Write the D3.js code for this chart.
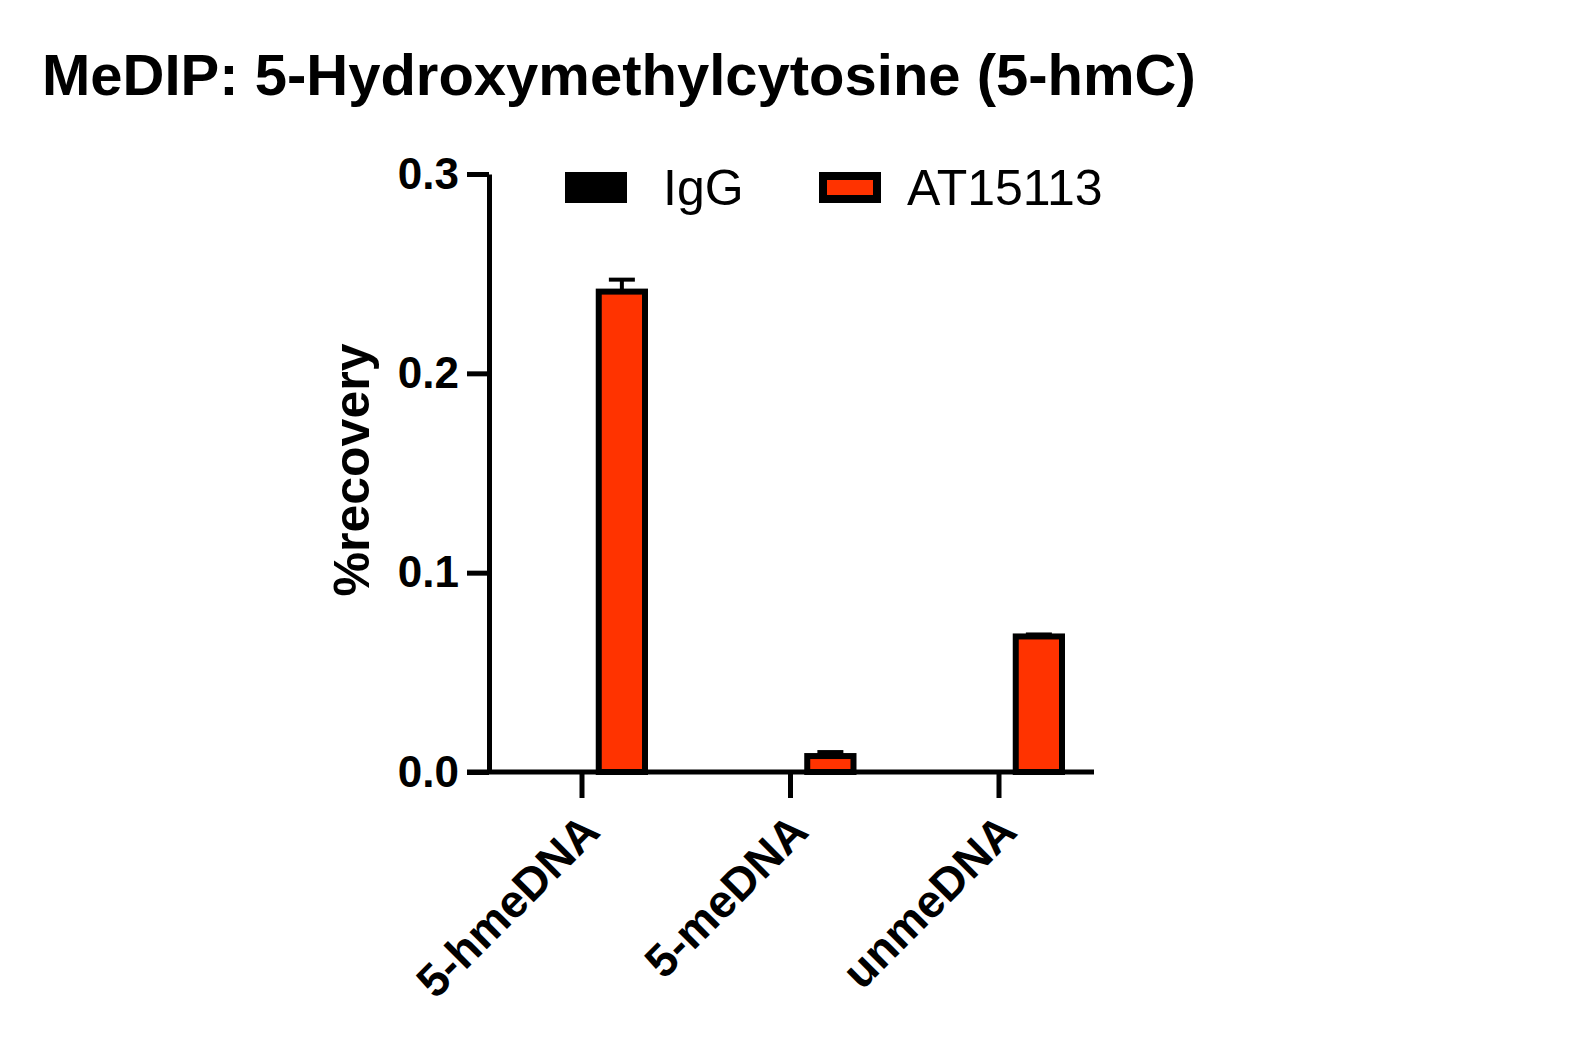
<!DOCTYPE html>
<html>
<head>
<meta charset="utf-8">
<script src="https://cdn.jsdelivr.net/npm/d3@7"></script>
<style>
  body { margin: 0; background: #fff; }
  svg { font-family: 'Liberation Sans', Arial, sans-serif; }
</style>
</head>
<body>
<script>
const categories = ['5-hmeDNA', '5-meDNA', 'unmeDNA']
const seriesNames = ['IgG', 'AT15113']
const igg = [0, 0, 0]
const iggErr = [0, 0, 0]
const at15113 = [0.241, 0.008, 0.068]
const at15113Err = [0.006, 0.002, 0.001]
const yTicks = [0, 0.1, 0.2, 0.3]

const WIDTH = 1584
const HEIGHT = 1055
const ORANGE = '#ff3300'

const colors = { IgG: '#000', AT15113: ORANGE }
const values = { IgG: igg, AT15113: at15113 }
const errors = { IgG: iggErr, AT15113: at15113Err }

const svg = d3.select('body')
  .append('svg')
  .attr('width', WIDTH)
  .attr('height', HEIGHT)

svg.append('text')
  .attr('x', 42)
  .attr('y', 95)
  .attr('font-size', 58)
  .attr('font-weight', 'bold')
  .text('MeDIP: 5-Hydroxymethylcytosine (5-hmC)')

const yScale = d3.scaleLinear()
  .domain([0, 0.3])
  .range([772, 174])

const xScale = d3.scaleBand()
  .domain(categories)
  .range([477.75, 1103.25])

const inner = d3.scaleBand()
  .domain(seriesNames)
  .range([-63, 63])
  .paddingInner(0.42)

const AX = 489

// x axis line, starts at the y axis tick end
svg.append('line')
  .attr('x1', AX - 22)
  .attr('x2', 1094)
  .attr('y1', yScale(0))
  .attr('y2', yScale(0))
  .attr('stroke', '#000')
  .attr('stroke-width', 5)

const xAxis = d3.axisBottom(xScale)
  .tickSize(26)
  .tickSizeOuter(0)

const gx = svg.append('g')
  .attr('transform', 'translate(0,' + yScale(0) + ')')
  .call(xAxis)
gx.select('.domain').remove()
gx.selectAll('line').attr('stroke-width', 5)
gx.selectAll('text')
  .attr('font-size', 46)
  .attr('font-weight', 'bold')
  .attr('fill', '#000')
  .attr('text-anchor', 'end')
  .attr('dy', null)
  .attr('y', 0)
  .attr('x', 0)
  .attr('transform', 'translate(20,62) rotate(-45)')

const yAxis = d3.axisLeft(yScale)
  .tickValues(yTicks)
  .tickFormat(d3.format('.1f'))
  .tickSize(22)
  .tickSizeOuter(0)
  .tickPadding(8)

const gy = svg.append('g')
  .attr('transform', 'translate(' + AX + ',0)')
  .call(yAxis)
gy.select('.domain').attr('stroke-width', 5)
gy.selectAll('line').attr('stroke-width', 5)
gy.selectAll('text')
  .attr('font-size', 44)
  .attr('font-weight', 'bold')
  .attr('fill', '#000')

svg.append('text')
  .attr('transform', 'translate(369,' + (yScale(0.15) - 3) + ') rotate(-90)')
  .attr('text-anchor', 'middle')
  .attr('font-size', 50)
  .attr('font-weight', 'bold')
  .text('%recovery')

// bars
const bars = []
categories.forEach((c, i) => {
  seriesNames.forEach(s => {
    bars.push({ cat: c, series: s, v: values[s][i], e: errors[s][i] })
  })
})

const groups = svg.selectAll('.grp')
  .data(bars)
  .enter()
  .append('g')
  .attr('transform', d => 'translate(' + (xScale(d.cat) + xScale.bandwidth() / 2 + inner(d.series)) + ',0)')

// error bars, upper only
groups.filter(d => d.e > 0)
  .append('line')
  .attr('x1', inner.bandwidth() / 2)
  .attr('x2', inner.bandwidth() / 2)
  .attr('y1', d => yScale(d.v))
  .attr('y2', d => yScale(d.v + d.e))
  .attr('stroke', '#000')
  .attr('stroke-width', 4)

groups.filter(d => d.e > 0)
  .append('line')
  .attr('x1', inner.bandwidth() / 2 - 13)
  .attr('x2', inner.bandwidth() / 2 + 13)
  .attr('y1', d => yScale(d.v + d.e))
  .attr('y2', d => yScale(d.v + d.e))
  .attr('stroke', '#000')
  .attr('stroke-width', 4)

groups.append('rect')
  .attr('x', 0)
  .attr('width', inner.bandwidth())
  .attr('y', d => yScale(d.v))
  .attr('height', d => yScale(0) - yScale(d.v))
  .attr('fill', d => colors[d.series])
  .attr('stroke', '#000')
  .attr('stroke-width', 6)

// legend
const legendRectX = [565, 819]
const legendTextX = [663, 907]
const legend = svg.selectAll('.leg')
  .data(seriesNames)
  .enter()
  .append('g')

legend.append('rect')
  .attr('x', (d, i) => legendRectX[i] + (d === 'IgG' ? 0 : 4))
  .attr('y', d => d === 'IgG' ? 172 : 176)
  .attr('width', d => d === 'IgG' ? 62 : 54)
  .attr('height', d => d === 'IgG' ? 31 : 23)
  .attr('fill', d => colors[d])
  .attr('stroke', '#000')
  .attr('stroke-width', d => d === 'IgG' ? 0 : 8)

legend.append('text')
  .attr('x', (d, i) => legendTextX[i])
  .attr('y', 205)
  .attr('font-size', 50)
  .text(d => d)
</script>
</body>
</html>
